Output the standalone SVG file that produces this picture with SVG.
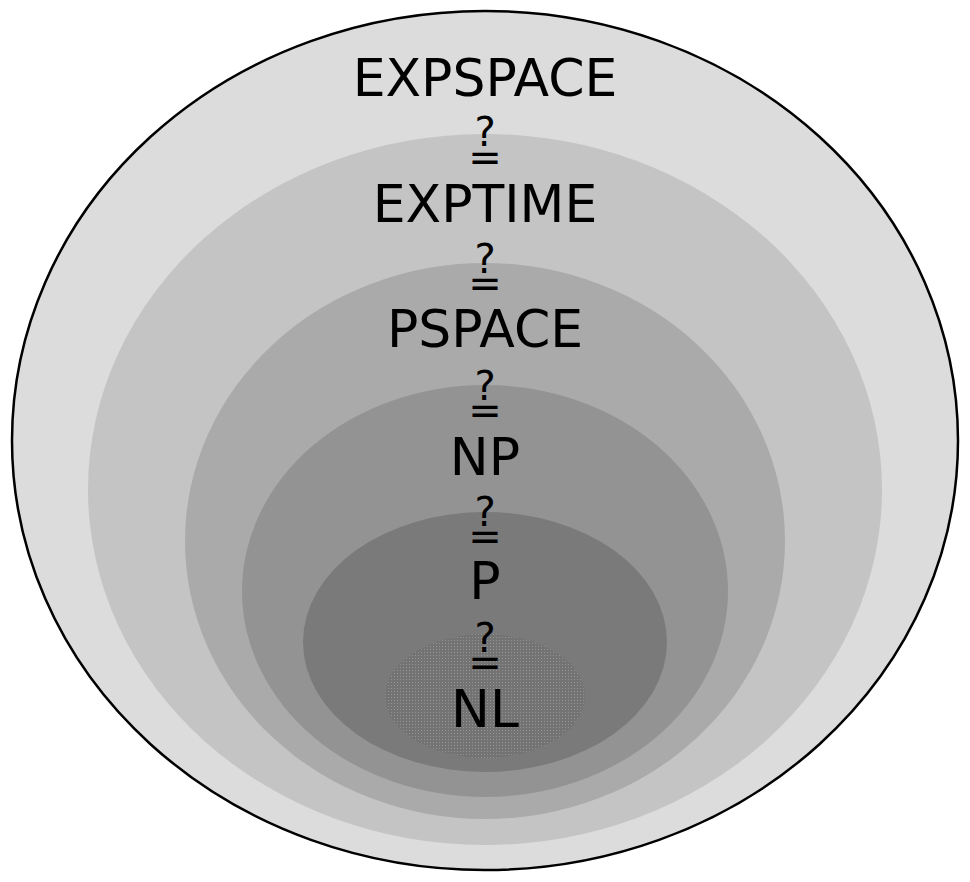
<svg xmlns="http://www.w3.org/2000/svg" width="970" height="882" viewBox="0 0 970 882">
<style>
.lbl{font-family:"DejaVu Sans","Liberation Sans",sans-serif;font-size:52px;text-anchor:middle;fill:#000}
.q{font-family:"DejaVu Sans","Liberation Sans",sans-serif;font-size:40px;text-anchor:middle;fill:#000}
</style>
<defs>
<pattern id="stipple" width="3" height="3" patternUnits="userSpaceOnUse">
<rect width="3" height="3" fill="#737373"/>
<rect x="1" y="1" width="1" height="1" fill="#959595"/>
</pattern>
</defs>
<rect width="970" height="882" fill="#ffffff"/>
<g id="expspace">
<ellipse cx="485" cy="440.5" rx="473" ry="429.5" fill="#dcdcdc" stroke="#000" stroke-width="2.5"/>
</g>
<g id="exptime">
<ellipse cx="485" cy="489.5" rx="397" ry="355.5" fill="#c4c4c4"/>
</g>
<g id="pspace">
<ellipse cx="485" cy="541" rx="300" ry="278" fill="#aaaaaa"/>
</g>
<g id="np">
<ellipse cx="485" cy="591" rx="243" ry="206" fill="#939393"/>
</g>
<g id="p">
<ellipse cx="485" cy="642" rx="182" ry="130" fill="#7a7a7a"/>
</g>
<g id="nl">
<ellipse cx="485" cy="696" rx="100" ry="62" fill="url(#stipple)"/>
</g>
<g id="labels">
<text class="lbl" x="485" y="96">EXPSPACE</text>
<text class="q" x="485" y="146">?<tspan x="485" dy="25">=</tspan></text>
<text class="lbl" x="485" y="222">EXPTIME</text>
<text class="q" x="485" y="273">?<tspan x="485" dy="24">=</tspan></text>
<text class="lbl" x="485" y="347">PSPACE</text>
<text class="q" x="485" y="400">?<tspan x="485" dy="24">=</tspan></text>
<text class="lbl" x="485" y="475">NP</text>
<text class="q" x="485" y="526">?<tspan x="485" dy="24">=</tspan></text>
<text class="lbl" x="485" y="599">P</text>
<text class="q" x="485" y="652">?<tspan x="485" dy="24">=</tspan></text>
<text class="lbl" x="485" y="727">NL</text>
</g>
</svg>
